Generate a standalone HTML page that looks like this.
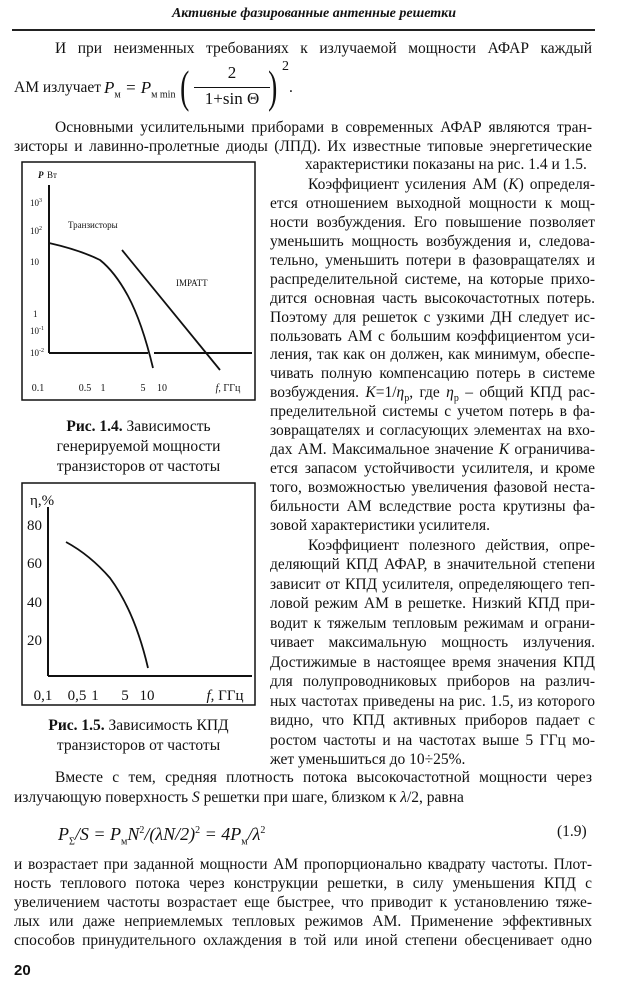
<!DOCTYPE html>
<html><head><meta charset="utf-8"><style>
body{margin:0;width:628px;height:1000px;background:#fff;position:relative;overflow:hidden;font-family:"Liberation Serif","DejaVu Serif",serif;color:#111;}
.l{position:absolute;font-size:15.5px;line-height:18px;white-space:nowrap;}
.j{text-align:justify;text-align-last:justify;white-space:normal;height:18px;overflow:visible}
.r{left:270px;width:325px}
.f{left:14px;width:578px}
.c{position:absolute;text-align:center;font-size:15.5px;line-height:20px;left:22px;width:233px}
svg text{font-family:"Liberation Serif",serif}
</style></head><body>
<div class="l" style="top:5px;left:0;width:628px;text-align:center;font-style:italic;font-weight:bold;font-size:14px">Активные фазированные антенные решетки</div>
<div style="position:absolute;left:12px;top:29px;width:583px;height:2px;background:#222"></div>

<div class="l j" style="top:40px;left:55px;width:537px">И при неизменных требованиях к излучаемой мощности АФАР каждый</div>
<div class="l" style="top:79px;left:14px">АМ излучает</div>
<div class="l" style="top:70px;left:104px;font-style:italic;font-size:17px;line-height:36px">P<sub style="font-size:10px;font-style:normal">м</sub> = P<sub style="font-size:10px;font-style:normal">м min</sub></div>
<div class="l" style="top:62px;left:177px;font-size:46px;line-height:50px;font-weight:100;transform:scaleX(0.6)">(</div>
<div class="l" style="top:64px;left:192px;width:80px;text-align:center;font-size:17px">2</div>
<div style="position:absolute;left:194px;top:87px;width:76px;height:1px;background:#111"></div>
<div class="l" style="top:90px;left:192px;width:80px;text-align:center;font-size:17px">1+sin Θ</div>
<div class="l" style="top:62px;left:265px;font-size:46px;line-height:50px;transform:scaleX(0.6)">)</div>
<div class="l" style="top:58px;left:282px;font-size:14px">2</div>
<div class="l" style="top:79px;left:289px">.</div>

<div class="l j" style="top:119px;left:55px;width:537px">Основными усилительными приборами в современных АФАР являются тран-</div>
<div class="l j f" style="top:138px">зисторы и лавинно-пролетные диоды (ЛПД). Их известные типовые энергетические</div>

<div class="l" style="top:156px;left:305px">характеристики показаны на рис. 1.4 и 1.5.</div>
<div class="l j" style="top:176px;left:308px;width:287px">Коэффициент усиления АМ (<i>K</i>) определя-</div>
<div class="l j r" style="top:195px">ется отношением выходной мощности к мощ-</div>
<div class="l j r" style="top:214px">ности возбуждения. Его повышение позволяет</div>
<div class="l j r" style="top:233px">уменьшить мощность возбуждения и, следова-</div>
<div class="l j r" style="top:252px">тельно, уменьшить потери в фазовращателях и</div>
<div class="l j r" style="top:271px">распределительной системе, на которые прихо-</div>
<div class="l j r" style="top:290px">дится основная часть высокочастотных потерь.</div>
<div class="l j r" style="top:309px">Поэтому для решеток с узкими ДН следует ис-</div>
<div class="l j r" style="top:328px">пользовать АМ с большим коэффициентом уси-</div>
<div class="l j r" style="top:346px">ления, так как он должен, как минимум, обеспе-</div>
<div class="l j r" style="top:365px">чивать полную компенсацию потерь в системе</div>
<div class="l j r" style="top:384px">возбуждения. <i>K</i>=1/<i>η</i><sub style="font-size:10px">р</sub>, где <i>η</i><sub style="font-size:10px">р</sub> – общий КПД рас-</div>
<div class="l j r" style="top:403px">пределительной системы с учетом потерь в фа-</div>
<div class="l j r" style="top:422px">зовращателях и согласующих элементах на вхо-</div>
<div class="l j r" style="top:441px">дах АМ. Максимальное значение <i>K</i> ограничива-</div>
<div class="l j r" style="top:460px">ется запасом устойчивости усилителя, и кроме</div>
<div class="l j r" style="top:479px">того, возможностью увеличения фазовой неста-</div>
<div class="l j r" style="top:498px">бильности АМ вследствие роста крутизны фа-</div>
<div class="l r" style="top:517px">зовой характеристики усилителя.</div>
<div class="l j" style="top:537px;left:308px;width:287px">Коэффициент полезного действия, опре-</div>
<div class="l j r" style="top:556px">деляющий КПД АФАР, в значительной степени</div>
<div class="l j r" style="top:576px">зависит от КПД усилителя, определяющего теп-</div>
<div class="l j r" style="top:595px">ловой режим АМ в решетке. Низкий КПД при-</div>
<div class="l j r" style="top:615px">водит к тяжелым тепловым режимам и ограни-</div>
<div class="l j r" style="top:634px">чивает максимальную мощность излучения.</div>
<div class="l j r" style="top:654px">Достижимые в настоящее время значения КПД</div>
<div class="l j r" style="top:673px">для полупроводниковых приборов на различ-</div>
<div class="l j r" style="top:693px">ных частотах приведены на рис. 1.5, из которого</div>
<div class="l j r" style="top:712px">видно, что КПД активных приборов падает с</div>
<div class="l j r" style="top:732px">ростом частоты и на частотах выше 5 ГГц мо-</div>
<div class="l r" style="top:751px">жет уменьшиться до 10÷25%.</div>

<svg style="position:absolute;left:0;top:0" width="628" height="1000">
<g fill="none" stroke="#111">
<rect x="22" y="162" width="233" height="238" stroke-width="1.5"/>
<line x1="49" y1="185" x2="49" y2="353" stroke-width="2"/>
<line x1="49" y1="353" x2="148" y2="353" stroke-width="2"/>
<line x1="154" y1="353" x2="252" y2="353" stroke-width="2"/>
<path d="M49 243 Q80 250 100 260 Q115 272 128 296 Q142 322 153 368" stroke-width="1.8"/>
<line x1="122" y1="250" x2="220" y2="370" stroke-width="1.8"/>
<rect x="22" y="483" width="233" height="222" stroke-width="1.5"/>
<line x1="48" y1="507" x2="48" y2="676" stroke-width="2"/>
<line x1="48" y1="676" x2="252" y2="676" stroke-width="2"/>
<path d="M66 542 Q90 555 110 578 Q135 612 148 668" stroke-width="1.8"/>
</g>
<g font-size="9" fill="#111">
<text x="38" y="178" font-style="italic" font-weight="bold">P</text><text x="47" y="178">Вт</text>
<text x="30" y="206">10<tspan dy="-4" font-size="6">3</tspan></text>
<text x="30" y="234">10<tspan dy="-4" font-size="6">2</tspan></text>
<text x="30" y="265">10</text>
<text x="33" y="317">1</text>
<text x="30" y="334">10<tspan dy="-4" font-size="6">-1</tspan></text>
<text x="30" y="356">10<tspan dy="-4" font-size="6">-2</tspan></text>
<text x="68" y="228">Транзисторы</text>
<text x="176" y="286">IMPATT</text>
<g text-anchor="middle" font-size="10"><text x="38" y="391">0.1</text><text x="85" y="391">0.5</text><text x="103" y="391">1</text><text x="143" y="391">5</text><text x="162" y="391">10</text><text x="228" y="391"><tspan font-style="italic">f</tspan>, ГГц</text></g>
</g>
<g font-size="15" fill="#111">
<text x="30" y="505">η,%</text>
<text x="27" y="530">80</text><text x="27" y="568">60</text><text x="27" y="607">40</text><text x="27" y="645">20</text>
<g text-anchor="middle"><text x="43" y="700">0,1</text><text x="77" y="700">0,5</text><text x="95" y="700">1</text><text x="125" y="700">5</text><text x="147" y="700">10</text><text x="225" y="700"><tspan font-style="italic">f</tspan>, ГГц</text></g>
</g>
</svg>
<div class="c" style="top:417px"><b>Рис. 1.4.</b> Зависимость<br>генерируемой мощности<br>транзисторов от частоты</div>
<div class="c" style="top:716px"><b>Рис. 1.5.</b> Зависимость КПД<br>транзисторов от частоты</div>

<div class="l j" style="top:769px;left:55px;width:537px">Вместе с тем, средняя плотность потока высокочастотной мощности через</div>
<div class="l" style="top:789px;left:14px">излучающую поверхность <i>S</i> решетки при шаге, близком к <i>λ</i>/2, равна</div>
<div class="l" style="top:819px;left:58px;font-size:18px;line-height:24px;font-style:italic">P<sub style="font-size:10px;font-style:normal">Σ</sub>/S = P<sub style="font-size:10px;font-style:normal">м</sub>N<sup style="font-size:10px;font-style:normal">2</sup>/(λN/2)<sup style="font-size:10px;font-style:normal">2</sup> = 4P<sub style="font-size:10px;font-style:normal">м</sub>/λ<sup style="font-size:10px;font-style:normal">2</sup></div>
<div class="l" style="top:823px;left:557px">(1.9)</div>
<div class="l j f" style="top:856px">и возрастает при заданной мощности АМ пропорционально квадрату частоты. Плот-</div>
<div class="l j f" style="top:875px">ность теплового потока через конструкции решетки, в силу уменьшения КПД с</div>
<div class="l j f" style="top:894px">увеличением частоты возрастает еще быстрее, что приводит к установлению тяже-</div>
<div class="l j f" style="top:913px">лых или даже неприемлемых тепловых режимов АМ. Применение эффективных</div>
<div class="l j f" style="top:932px">способов принудительного охлаждения в той или иной степени обесценивает одно</div>
<div class="l" style="top:962px;left:14px;font-family:'Liberation Sans',sans-serif;font-weight:bold;font-size:15px">20</div>
</body></html>
